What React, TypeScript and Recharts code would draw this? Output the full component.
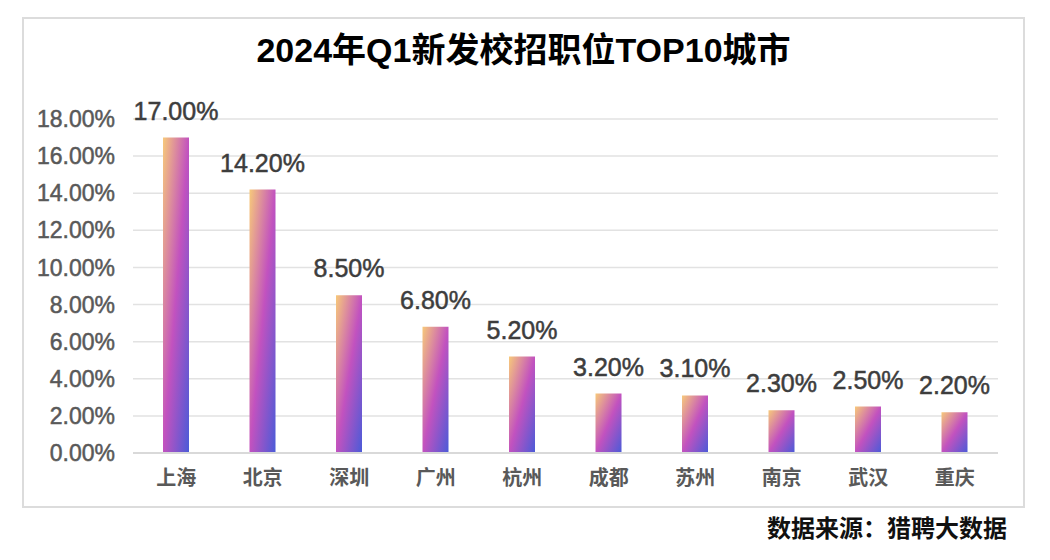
import { BarChart, Bar, XAxis, YAxis, CartesianGrid, LabelList } from 'recharts'

const cities = ['上海', '北京', '深圳', '广州', '杭州', '成都', '苏州', '南京', '武汉', '重庆']
const shares = [17.0, 14.2, 8.5, 6.8, 5.2, 3.2, 3.1, 2.3, 2.5, 2.2]
const yTicks = [0, 2, 4, 6, 8, 10, 12, 14, 16, 18]

const data = cities.map((city, i) => ({ city, share: shares[i] }))

const pct = (v: number) => `${Number(v).toFixed(2)}%`

const FONT = '"Liberation Sans", Arial, "Noto Sans CJK SC", sans-serif'

export default function App() {
  return (
    <div
      style={{
        position: 'absolute',
        left: 0,
        top: 0,
        width: 1050,
        height: 560,
        background: '#fff',
        fontFamily: FONT
      }}
    >
      <div
        style={{
          position: 'absolute',
          left: 22,
          top: 17,
          width: 999,
          height: 487,
          border: '2px solid #dcdcdc'
        }}
      />
      <div
        style={{
          position: 'absolute',
          left: 22,
          top: 29,
          width: 1003,
          textAlign: 'center',
          fontSize: 34,
          fontWeight: 'bold',
          color: '#000',
          lineHeight: '42px'
        }}
      >
        2024年Q1新发校招职位TOP10城市
      </div>
      <div style={{ position: 'absolute', left: 0, top: 0 }}>
        <BarChart
          width={1050}
          height={560}
          data={data}
          margin={{ top: 119, right: 52, bottom: 67, left: 13 }}
        >
          <defs>
            <linearGradient id="barGrad" x1="0" y1="0" x2="1" y2="1">
              <stop offset="0%" stopColor="#f7c97a" />
              <stop offset="50%" stopColor="#c252bf" />
              <stop offset="100%" stopColor="#4a5bd8" />
            </linearGradient>
          </defs>
          <CartesianGrid vertical={false} stroke="#e2e2e2" strokeWidth={1.5} />
          <XAxis
            dataKey="city"
            axisLine={{ stroke: '#d9d9d9', strokeWidth: 2 }}
            tickLine={false}
            tickMargin={12}
            height={40}
            tick={{ fill: '#595959', fontSize: 20, fontWeight: 'bold', fontFamily: FONT }}
          />
          <YAxis
            width={120}
            domain={[0, 18]}
            ticks={yTicks}
            tickFormatter={pct}
            axisLine={false}
            tickLine={false}
            tickMargin={12}
            tick={{
              fill: '#595959',
              stroke: '#595959',
              strokeWidth: 0.5,
              fontSize: 23,
              fontFamily: FONT
            }}
          />
          <Bar dataKey="share" fill="url(#barGrad)" barSize={26} isAnimationActive={false}>
            <LabelList
              dataKey="share"
              position="top"
              offset={18}
              formatter={(v: any) => pct(v)}
              style={{
                fill: '#3d3d3d',
                stroke: '#3d3d3d',
                strokeWidth: 0.5,
                fontSize: 25,
                fontFamily: FONT
              }}
            />
          </Bar>
        </BarChart>
      </div>
      <div
        style={{
          position: 'absolute',
          right: 43,
          top: 514,
          fontSize: 24,
          fontWeight: 'bold',
          color: '#111',
          lineHeight: '30px'
        }}
      >
        数据来源：猎聘大数据
      </div>
    </div>
  )
}
